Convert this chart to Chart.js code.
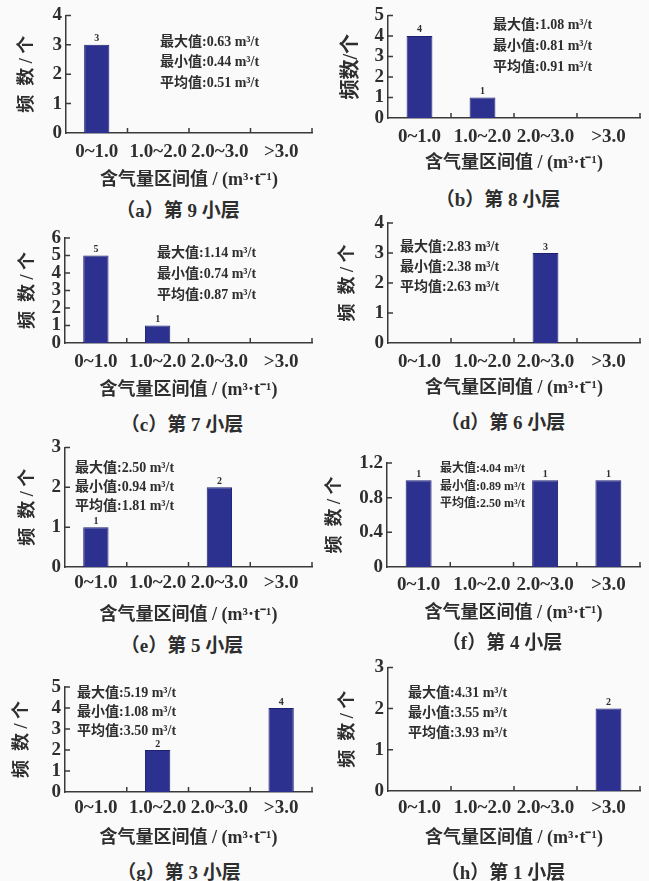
<!DOCTYPE html>
<html lang="zh">
  <head>
    <meta charset="UTF-8" />
    <title>各小层含气量区间频数</title>
    <style>
      body {
        margin: 0;
        padding: 0;
        background-color: #fafafa;
        width: 649px;
        height: 881px;
        position: relative;
        overflow: hidden;
        font-family: "Liberation Serif", "Noto Sans CJK SC", serif;
        color: #2e2e2e;
      }

      .panel {
        position: absolute;
      }

      .caption {
        position: absolute;
        transform: translate(-50%, -50%);
        font-size: 19px;
        font-weight: bold;
        white-space: nowrap;
      }
    </style>
  </head>
  <body>
    <script src="https://cdn.jsdelivr.net/npm/chart.js"></script>
    <script>
      // data
      const categories = ["0~1.0", "1.0~2.0", "2.0~3.0", ">3.0"];

      const layer9 = [3, 0, 0, 0];
      const layer8 = [4, 1, 0, 0];
      const layer7 = [5, 1, 0, 0];
      const layer6 = [0, 0, 3, 0];
      const layer5 = [1, 0, 2, 0];
      const layer4 = [1, 0, 1, 1];
      const layer3 = [0, 2, 0, 4];
      const layer1 = [0, 0, 0, 2];

      // max, min, mean gas content (m3/t)
      const stats9 = ["0.63", "0.44", "0.51"];
      const stats8 = ["1.08", "0.81", "0.91"];
      const stats7 = ["1.14", "0.74", "0.87"];
      const stats6 = ["2.83", "2.38", "2.63"];
      const stats5 = ["2.50", "0.94", "1.81"];
      const stats4 = ["4.04", "0.89", "2.50"];
      const stats3 = ["5.19", "1.08", "3.50"];
      const stats1 = ["4.31", "3.55", "3.93"];

      const yMaxes = [4, 5, 6, 4, 3, 1.2, 5, 3];
      const ySteps = [1, 1, 1, 1, 1, 0.4, 1, 1];

      const captions = [
        "（a）第 9 小层",
        "（b）第 8 小层",
        "（c）第 7 小层",
        "（d）第 6 小层",
        "（e）第 5 小层",
        "（f）第 4 小层",
        "（g）第 3 小层",
        "（h）第 1 小层",
      ];
      const statNames = ["最大值", "最小值", "平均值"];
      const xTitle = "含气量区间值 / (m³·t⁻¹)";

      const allCounts = [layer9, layer8, layer7, layer6, layer5, layer4, layer3, layer1];
      const allStats = [stats9, stats8, stats7, stats6, stats5, stats4, stats3, stats1];

      // page geometry of each panel (absolute px)
      const spaced = "频  数 / 个";
      const boxes = [
        { cx: 0, cy: 0, w: 324, axisX: 66, xEnd: 312, topY: 13, zeroY: 133, tickY: 152, titleY: 180, yTitleX: 27, yTitle: spaced, yTitleSize: 18, sx: 160, sy: 42, sGap: 20.5, sFont: 14, capX: 178, capY: 208 },
        { cx: 324, cy: 0, w: 325, axisX: 388, xEnd: 640, topY: 15, zeroY: 118, tickY: 137, titleY: 163, yTitleX: 352, yTitle: "频数/个", yTitleSize: 20, sx: 493, sy: 25, sGap: 21, sFont: 14, capX: 498, capY: 197 },
        { cx: 0, cy: 215, w: 324, axisX: 65, xEnd: 312, topY: 238, zeroY: 343, tickY: 362, titleY: 390, yTitleX: 28, yTitle: spaced, yTitleSize: 18, sx: 157, sy: 253, sGap: 21, sFont: 14, capX: 182, capY: 422 },
        { cx: 324, cy: 205, w: 325, axisX: 388, xEnd: 640, topY: 223, zeroY: 343, tickY: 362, titleY: 388, yTitleX: 348, yTitle: spaced, yTitleSize: 18, sx: 400, sy: 247, sGap: 20, sFont: 14, capX: 503, capY: 420 },
        { cx: 0, cy: 432, w: 324, axisX: 65, xEnd: 312, topY: 445, zeroY: 567, tickY: 583, titleY: 615, yTitleX: 28, yTitle: spaced, yTitleSize: 18, sx: 75, sy: 468, sGap: 19, sFont: 14, capX: 182, capY: 643 },
        { cx: 324, cy: 445, w: 325, axisX: 387, xEnd: 640, topY: 463, zeroY: 567, tickY: 585, titleY: 613, yTitleX: 335, yTitle: spaced, yTitleSize: 18, sx: 440, sy: 469, sGap: 17.5, sFont: 12, capX: 502, capY: 640 },
        { cx: 0, cy: 670, w: 324, axisX: 65, xEnd: 312, topY: 687, zeroY: 792, tickY: 808, titleY: 838, yTitleX: 22, yTitle: spaced, yTitleSize: 18, sx: 77, sy: 693, sGap: 19, sFont: 14, capX: 179, capY: 870 },
        { cx: 324, cy: 652, w: 325, axisX: 388, xEnd: 640, topY: 665, zeroY: 791, tickY: 808, titleY: 838, yTitleX: 348, yTitle: spaced, yTitleSize: 18, sx: 408, sy: 693, sGap: 20, sFont: 14, capX: 503, capY: 870 },
      ];

      const FONT = "'Liberation Serif', 'Noto Sans CJK SC', serif";
      const textColor = "#2e2e2e";
      const axisColor = "#3a3a3a";
      const barColor = "#2c3190";

      // inward tick marks on both axes
      const innerTicks = {
        id: "innerTicks",
        afterDraw(chart) {
          const { ctx, chartArea: a, scales } = chart;
          ctx.save();
          ctx.strokeStyle = axisColor;
          ctx.lineWidth = 1.5;
          ctx.beginPath();
          const n = categories.length;
          for (let i = 1; i <= n; i++) {
            const x = a.left + (i * (a.right - a.left)) / n;
            ctx.moveTo(x, a.bottom);
            ctx.lineTo(x, a.bottom - 5);
          }
          scales.y.ticks.forEach((t) => {
            if (t.value === 0) return;
            const y = scales.y.getPixelForValue(t.value);
            ctx.moveTo(a.left, y);
            ctx.lineTo(a.left + 5, y);
          });
          ctx.stroke();
          ctx.restore();
        },
      };

      // count above each bar and the stats block
      const annotations = {
        id: "annotations",
        afterDatasetsDraw(chart, args, opts) {
          const { ctx } = chart;
          const meta = chart.getDatasetMeta(0);
          ctx.save();
          ctx.fillStyle = textColor;
          ctx.textAlign = "center";
          ctx.textBaseline = "bottom";
          ctx.font = "bold 10px " + FONT;
          meta.data.forEach((bar, i) => {
            const v = chart.data.datasets[0].data[i];
            if (!v) return;
            ctx.fillText(String(v), bar.x, bar.y - 1);
          });
          const b = opts.box;
          ctx.textAlign = "left";
          ctx.textBaseline = "middle";
          ctx.font = "bold " + b.sFont + "px " + FONT;
          opts.stats.forEach((s, k) => {
            ctx.fillText(statNames[k] + ":" + s + " m³/t", b.sx - b.cx, b.sy - b.cy + k * b.sGap);
          });
          ctx.restore();
        },
      };

      boxes.forEach((b, p) => {
        const h = b.titleY - b.cy + 14;
        const wrap = document.createElement("div");
        wrap.className = "panel";
        wrap.style.left = b.cx + "px";
        wrap.style.top = b.cy + "px";
        const canvas = document.createElement("canvas");
        canvas.width = b.w;
        canvas.height = h;
        canvas.style.width = b.w + "px";
        canvas.style.height = h + "px";
        wrap.appendChild(canvas);
        document.body.appendChild(wrap);

        const cap = document.createElement("div");
        cap.className = "caption";
        cap.style.left = b.capX + "px";
        cap.style.top = b.capY + "px";
        cap.textContent = captions[p];
        document.body.appendChild(cap);

        const xAxisH = h - (b.zeroY - b.cy);
        const yAxisW = b.axisX - b.cx;
        const yTitleLH = b.yTitleSize * 1.2;

        new Chart(canvas.getContext("2d"), {
          type: "bar",
          data: {
            labels: categories,
            datasets: [
              {
                data: allCounts[p],
                backgroundColor: barColor,
                borderColor: "#1d2070",
                borderWidth: 1,
                barPercentage: 0.41,
                categoryPercentage: 1,
              },
            ],
          },
          options: {
            responsive: false,
            animation: false,
            devicePixelRatio: 1,
            layout: {
              padding: {
                top: b.topY - b.cy,
                right: b.cx + b.w - b.xEnd,
                left: 0,
                bottom: 0,
              },
            },
            plugins: {
              legend: { display: false },
              tooltip: { enabled: false },
              annotations: { box: b, stats: allStats[p] },
            },
            scales: {
              x: {
                grid: { display: false, drawTicks: false },
                border: { display: true, color: axisColor, width: 1.5 },
                ticks: {
                  autoSkip: false,
                  maxRotation: 0,
                  minRotation: 0,
                  padding: b.tickY - b.zeroY - 11.4,
                  color: textColor,
                  font: { family: FONT, size: 19, weight: "bold" },
                },
                title: {
                  display: true,
                  text: xTitle,
                  color: textColor,
                  font: { family: FONT, size: 18, weight: "bold" },
                  padding: { top: 0, bottom: 14 - 10.8 },
                },
                afterFit: (s) => {
                  s.height = xAxisH;
                },
              },
              y: {
                min: 0,
                max: yMaxes[p],
                grid: { display: false, drawTicks: false },
                border: { display: true, color: axisColor, width: 1.5 },
                ticks: {
                  stepSize: ySteps[p],
                  autoSkip: false,
                  padding: 4,
                  color: textColor,
                  font: { family: FONT, size: 19, weight: "bold" },
                },
                title: {
                  display: true,
                  text: b.yTitle,
                  color: textColor,
                  font: { family: FONT, size: b.yTitleSize, weight: "bold" },
                  padding: { top: b.yTitleX - b.cx - yTitleLH / 2, bottom: 0 },
                },
                afterFit: (s) => {
                  s.width = yAxisW;
                },
              },
            },
          },
          plugins: [innerTicks, annotations],
        });
      });
    </script>
  </body>
</html>
